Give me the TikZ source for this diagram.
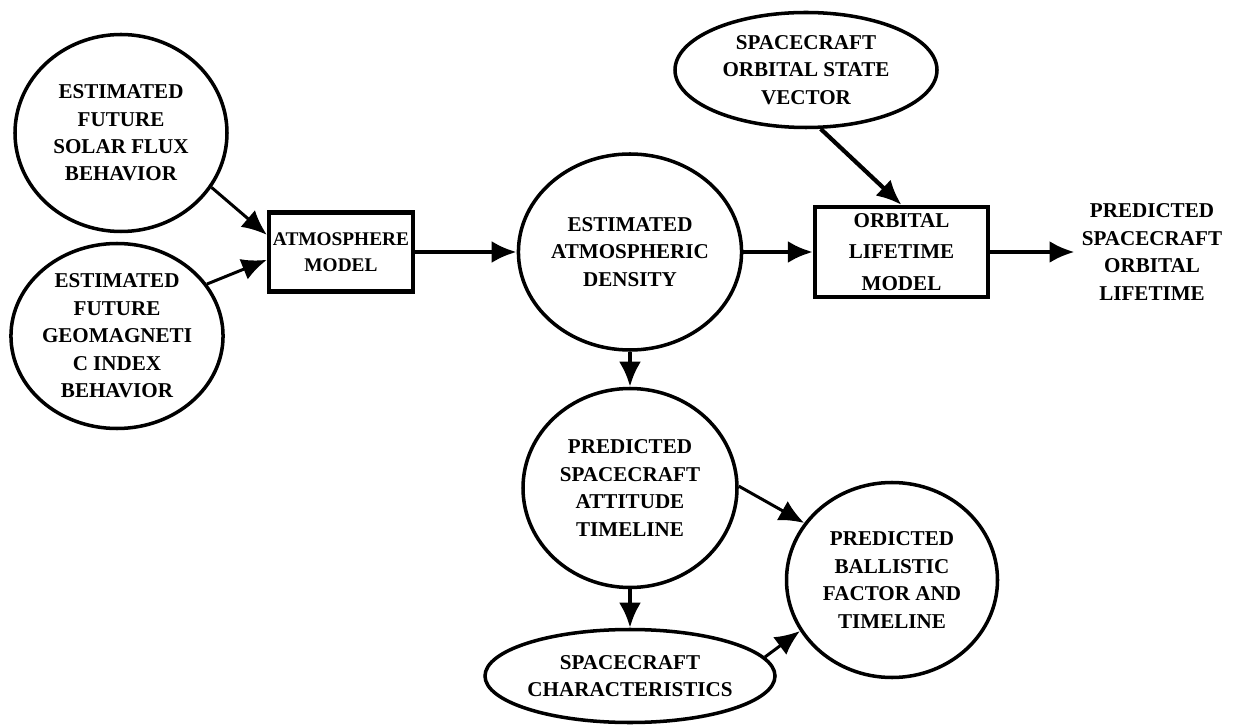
\documentclass[tikz,border=0pt]{standalone}
\usepackage{fontspec}
\setmainfont{Liberation Serif}
\usetikzlibrary{positioning}
\usetikzlibrary{shapes.geometric}
\usetikzlibrary{arrows.meta}
\definecolor{ink}{HTML}{000000}

\tikzset{
	label font/.style={font=\fontsize{12}{15.6}\selectfont\bfseries, align=center},
	bubble/.style={ellipse, draw=ink, line width=2pt, inner sep=0pt, label font},
	block/.style={rectangle, draw=ink, line width=2.4pt, inner sep=0pt, label font},
	flow/.style={color=ink, line width=2.4pt, -{Latex[length=0.5cm,width=0.44cm]}},
	side flow/.style={flow, line width=1.7pt},
}

\begin{document}
\begin{tikzpicture}

	\useasboundingbox (0,0) rectangle (24.68,-14.5);

    \draw (2.42,-2.66) 
		node[bubble, minimum width=4.24cm, minimum height=3.94cm] 
			(Solar Flux) {ESTIMATED\\FUTURE\\SOLAR FLUX\\BEHAVIOR};

    \draw (2.34,-6.72) 
		node[bubble, minimum width=4.14cm, minimum height=3.7cm] 
			(Geomagnetic Index) {ESTIMATED\\FUTURE\\GEOMAGNETI\\C INDEX\\BEHAVIOR};

    \draw (6.82,-5.04) 
		node[block, minimum width=2.88cm, minimum height=1.58cm, font=\fontsize{11}{15}\selectfont\bfseries] 
			(Atmosphere Model) {ATMOSPHERE\\MODEL};

    \draw (12.6,-5.04) 
		node[bubble, minimum width=4.28cm, minimum height=3.92cm] 
			(Atmospheric Density) {ESTIMATED\\ATMOSPHERIC\\DENSITY};

    \draw (16.12,-1.4) 
		node[bubble, minimum width=5.24cm, minimum height=2.3cm] 
			(State Vector) {SPACECRAFT\\ORBITAL STATE\\VECTOR};

    \draw (18.03,-5.04) 
		node[block, minimum width=3.46cm, minimum height=1.8cm, font=\fontsize{12}{18}\selectfont\bfseries] 
			(Orbital Lifetime Model) {ORBITAL\\LIFETIME\\MODEL};

    \draw (23.04,-5.04) 
		node[label font, inner sep=0.14cm] 
			(Orbital Lifetime) {PREDICTED\\SPACECRAFT\\ORBITAL\\LIFETIME};

    \draw (12.6,-9.76) 
		node[bubble, minimum width=4.28cm, minimum height=3.98cm] 
			(Attitude Timeline) {PREDICTED\\SPACECRAFT\\ATTITUDE\\TIMELINE};

    \draw (17.84,-11.6) 
		node[bubble, minimum width=4.22cm, minimum height=3.9cm] 
			(Ballistic Factor) {PREDICTED\\BALLISTIC\\FACTOR AND\\TIMELINE};

    \draw (12.6,-13.52) 
		node[bubble, minimum width=5.24cm, minimum height=1.86cm] 
			(Characteristics) {SPACECRAFT\\CHARACTERISTICS};

	\draw[side flow] (Solar Flux.-31) -- (Atmosphere Model.167);
	\draw[side flow] (Geomagnetic Index.30) -- (Atmosphere Model.186);
	\draw[flow] (Atmosphere Model.east) -- (Atmospheric Density.west);
	\draw[flow] (Atmospheric Density.east) -- (Orbital Lifetime Model.west);
	\draw[flow] (State Vector.-76) -- (Orbital Lifetime Model.north);
	\draw[flow] (Orbital Lifetime Model.east) -- (Orbital Lifetime.west);
	\draw[flow] (Atmospheric Density.south) -- (Attitude Timeline.north);
	\draw[side flow] (Attitude Timeline.1) -- (Ballistic Factor.147);
	\draw[flow] (Attitude Timeline.south) -- (Characteristics.north);
	\draw[side flow] (Characteristics.8) -- (Ballistic Factor.209);

\end{tikzpicture}
\end{document}
